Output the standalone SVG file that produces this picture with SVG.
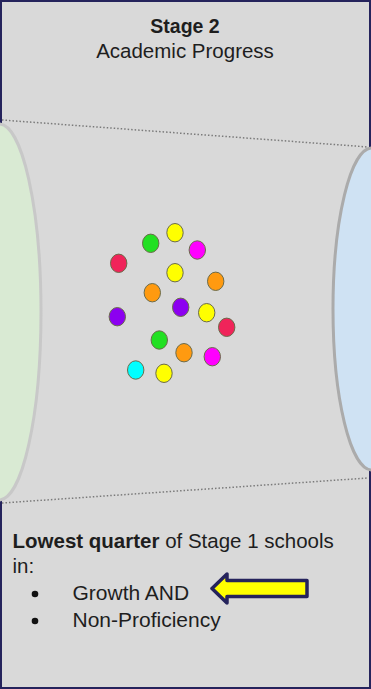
<svg xmlns="http://www.w3.org/2000/svg" width="371" height="689" viewBox="0 0 371 689">
<style>
.t{font-family:"Liberation Sans",Arial,sans-serif;fill:#1e1e1e}
.dot{stroke:#6b6b4a;stroke-width:1}
.dl{stroke:#7a7a7a;stroke-width:1.5;stroke-dasharray:1.5 2;fill:none}
</style>
<rect x="1" y="1" width="369" height="687" fill="#d9d9d9" stroke="#25235c" stroke-width="2"/>
<g id="title">
<text class="t" x="185" y="33" font-size="19.5" font-weight="bold" text-anchor="middle">Stage 2</text>
<text class="t" x="185" y="58" font-size="20.5" text-anchor="middle">Academic Progress</text>
</g>
<g id="connectors">
<line class="dl" x1="2" y1="120" x2="368" y2="147"/>
<line class="dl" x1="2" y1="503" x2="368" y2="478"/>
</g>
<g id="left-end">
<ellipse cx="-1" cy="312" rx="42" ry="188" fill="#d9ead3" stroke="#c8c8c8" stroke-width="3"/>
</g>
<g id="right-end">
<ellipse cx="372" cy="309" rx="39" ry="161" fill="#cfe2f3" stroke="#ababab" stroke-width="3"/>
</g>
<g id="dots">
<ellipse class="dot" cx="150.7" cy="243.3" rx="8.2" ry="9.2" fill="#22e022"/>
<ellipse class="dot" cx="175" cy="232.7" rx="8.2" ry="9.2" fill="#ffff00"/>
<ellipse class="dot" cx="197.3" cy="250" rx="8.2" ry="9.2" fill="#ff00ff"/>
<ellipse class="dot" cx="118.7" cy="263.3" rx="8.2" ry="9.2" fill="#f0245a"/>
<ellipse class="dot" cx="175" cy="272.7" rx="8.2" ry="9.2" fill="#ffff00"/>
<ellipse class="dot" cx="215.7" cy="281.3" rx="8.2" ry="9.2" fill="#ff9a10"/>
<ellipse class="dot" cx="152.3" cy="292.7" rx="8.2" ry="9.2" fill="#ff9a10"/>
<ellipse class="dot" cx="180.7" cy="307.3" rx="8.2" ry="9.2" fill="#8c00f0"/>
<ellipse class="dot" cx="117.3" cy="316.7" rx="8.2" ry="9.2" fill="#8c00f0"/>
<ellipse class="dot" cx="206.7" cy="312.7" rx="8.2" ry="9.2" fill="#ffff00"/>
<ellipse class="dot" cx="226.7" cy="327.3" rx="8.2" ry="9.2" fill="#f0245a"/>
<ellipse class="dot" cx="159.3" cy="340" rx="8.2" ry="9.2" fill="#22e022"/>
<ellipse class="dot" cx="184" cy="352.7" rx="8.2" ry="9.2" fill="#ff9a10"/>
<ellipse class="dot" cx="212.3" cy="356.7" rx="8.2" ry="9.2" fill="#ff00ff"/>
<ellipse class="dot" cx="135.7" cy="370" rx="8.2" ry="9.2" fill="#00ffff"/>
<ellipse class="dot" cx="164" cy="373.3" rx="8.2" ry="9.2" fill="#ffff00"/>
</g>
<g id="criteria">
<text class="t" x="12.5" y="548" font-size="20.5"><tspan font-weight="bold">Lowest quarter</tspan> of Stage 1 schools</text>
<text class="t" x="12.5" y="573" font-size="20.5">in:</text>
<circle cx="35" cy="594" r="3.3" fill="#111"/>
<text class="t" x="72.5" y="600" font-size="21">Growth AND</text>
<circle cx="35" cy="621" r="3.3" fill="#111"/>
<text class="t" x="72.5" y="627" font-size="21">Non-Proficiency</text>
</g>
<g id="arrow">
<polygon points="212,588.5 227,574 227,580.5 307,580.5 307,596.5 227,596.5 227,603" fill="#ffff00" stroke="#25235c" stroke-width="3.5" stroke-linejoin="round"/>
</g>
</svg>
